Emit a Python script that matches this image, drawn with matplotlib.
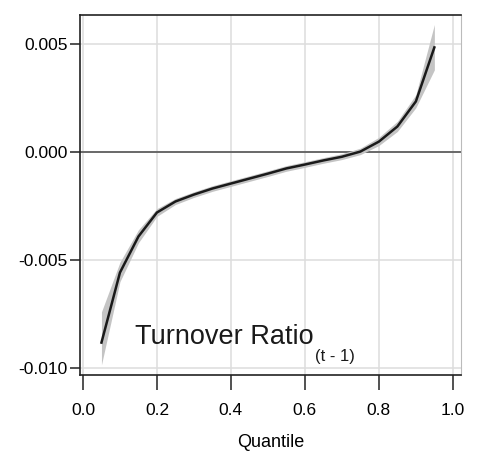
import matplotlib

matplotlib.use("Agg")
import matplotlib.pyplot as plt

# values
quantiles = [0.05, 0.10, 0.15, 0.20, 0.25, 0.30, 0.35, 0.40, 0.45, 0.50,
             0.55, 0.60, 0.65, 0.70, 0.75, 0.80, 0.85, 0.90, 0.95]
coef = [-0.00882, -0.00558, -0.00391, -0.00280, -0.00229, -0.00197, -0.00169,
        -0.00146, -0.00123, -0.00100, -0.00076, -0.00058, -0.00039, -0.00022,
        0.00002, 0.00048, 0.00118, 0.00234, 0.00484]
lower = [-0.00985, -0.00600, -0.00420, -0.00298, -0.00243, -0.00210, -0.00182,
         -0.00159, -0.00136, -0.00113, -0.00089, -0.00071, -0.00052, -0.00035,
         -0.00012, 0.00030, 0.00095, 0.00205, 0.00380]
upper = [-0.00740, -0.00510, -0.00360, -0.00262, -0.00215, -0.00184, -0.00156,
         -0.00133, -0.00110, -0.00087, -0.00063, -0.00045, -0.00026, -0.00008,
         0.00018, 0.00068, 0.00142, 0.00265, 0.00590]
x_ticks = [0.0, 0.2, 0.4, 0.6, 0.8, 1.0]
y_ticks = [-0.010, -0.005, 0.000, 0.005]
label_text = "Turnover Ratio"
label_sub = "(t - 1)"

plt.rcParams["font.family"] = ["Liberation Sans", "DejaVu Sans"]

fig = plt.figure(figsize=(4.82, 4.51), dpi=100)
ax = fig.add_axes([80 / 482, 1 - 375 / 451, (461 - 80) / 482, (375 - 15) / 451])

ax.fill_between(quantiles, lower, upper, color="#c4c4c4", lw=0, zorder=2)
ax.plot(quantiles, coef, color="#1a1a1a", lw=1.8, zorder=3)
ax.axhline(0, color="#555555", lw=1.2, zorder=1)

ax.set_xlim(-0.008, 1.022)
ax.set_ylim(-0.01032, 0.00634)
ax.set_xticks(x_ticks)
ax.set_yticks(y_ticks)
ax.set_xticklabels([f"{v:.1f}" for v in x_ticks])
ax.set_yticklabels([f"{v:.3f}" for v in y_ticks])
ax.grid(color="#dddddd", lw=1.1, zorder=0)
ax.set_axisbelow(True)

for side in ("left", "bottom", "top"):
    ax.spines[side].set_color("#222222")
    ax.spines[side].set_linewidth(1.2)
ax.spines["right"].set_color("#bbbbbb")
ax.spines["right"].set_linewidth(0.8)

ax.tick_params(axis="y", length=7, width=1.1, color="#222222", labelsize=12.5, pad=2)
ax.tick_params(axis="x", length=11, width=1.1, color="#222222", labelsize=12.5, pad=9)
ax.set_xlabel("Quantile", fontsize=13, labelpad=12)

main = ax.text(0.142, -0.0089, label_text, fontsize=19.5, color="#1a1a1a",
               ha="left", va="baseline", zorder=4)
ax.annotate(label_sub, xy=(1, 0), xycoords=main, xytext=(1, 1), textcoords="offset points",
            fontsize=12, color="#1a1a1a", ha="left", va="top", zorder=4)

fig.savefig("out.png", dpi=100)
